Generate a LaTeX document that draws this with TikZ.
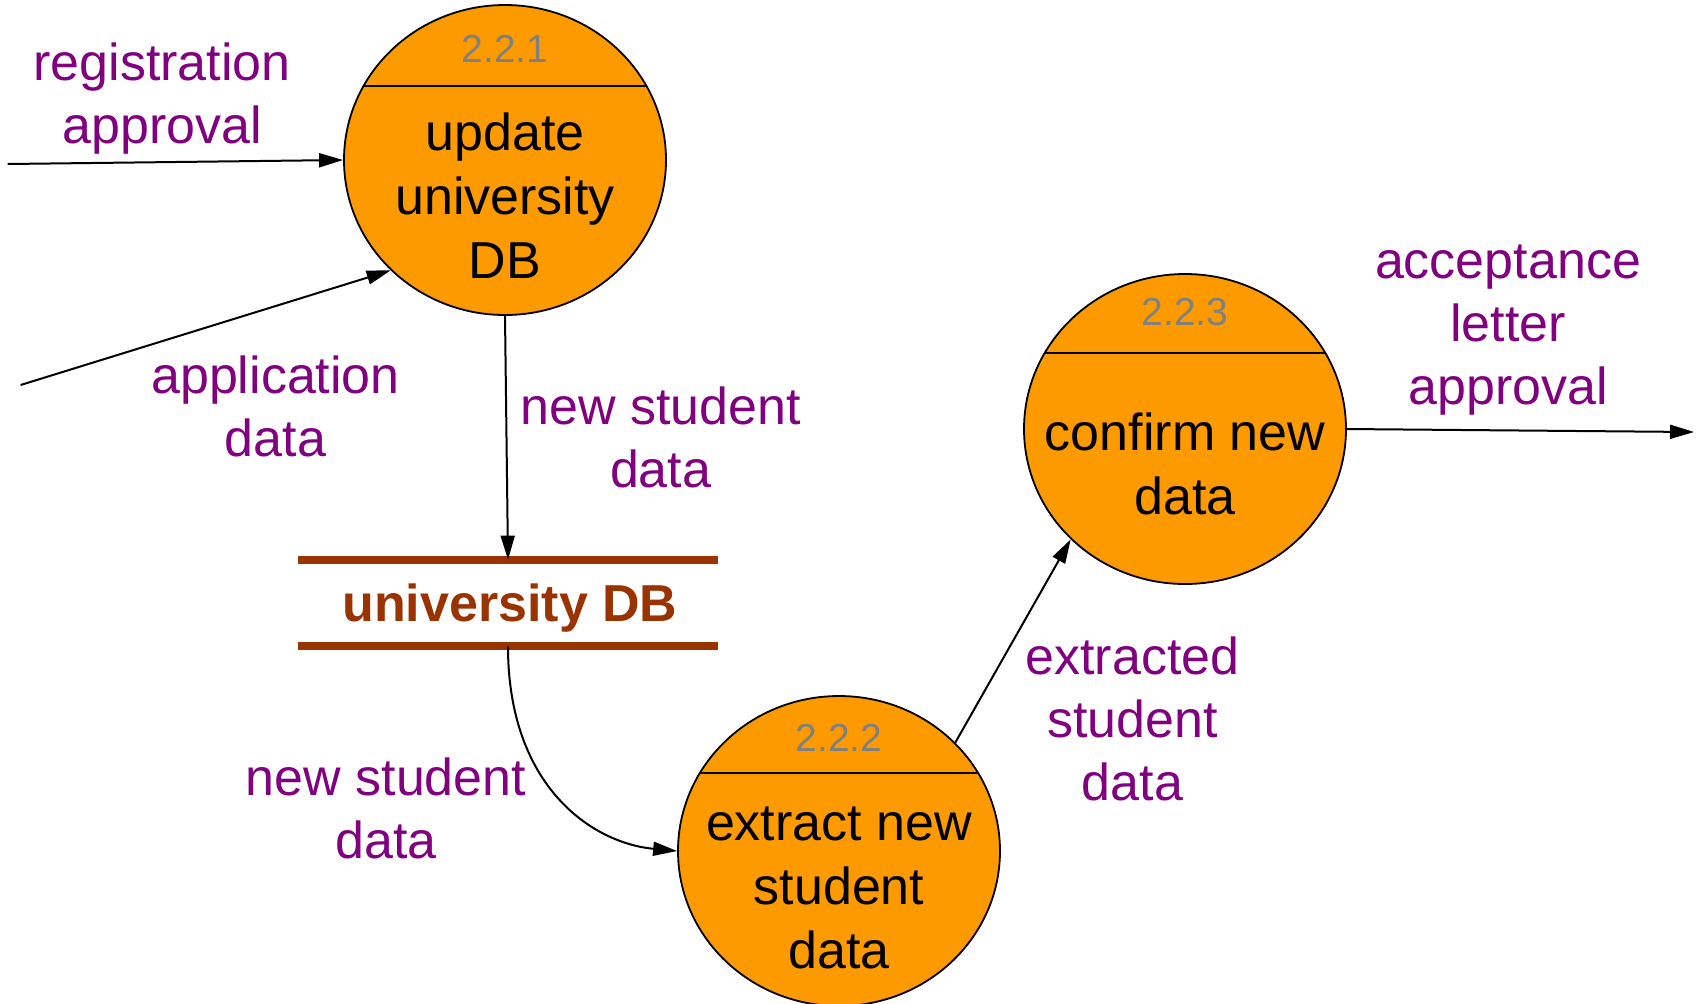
\documentclass[tikz,border=0pt]{standalone}
\usepackage{fontspec}
\setmainfont{Liberation Sans}
\usetikzlibrary{shapes.geometric,arrows.meta,calc}
\definecolor{procfill}{HTML}{FD9A00}
\definecolor{lblpurple}{HTML}{800080}
\definecolor{storebrown}{HTML}{993300}
\definecolor{numgray}{HTML}{808080}
\begin{document}
\begin{tikzpicture}[x=0.5pt,y=-0.5pt,
  proc/.style={ellipse,draw=black,line width=0.9pt,fill=procfill,minimum width=161pt,minimum height=155pt,inner sep=0pt},
  proctext/.style={align=center,font=\fontsize{26}{32}\selectfont,text=black},
  procnum/.style={font=\fontsize{19.5}{22}\selectfont,text=numgray},
  flowlbl/.style={align=center,font=\fontsize{26}{31.5}\selectfont,text=lblpurple},
  flow/.style={draw=black,line width=1pt,-{Triangle[length=12pt,width=7pt]}},
  sepline/.style={draw=black,line width=1pt},
  storeline/.style={draw=storebrown,line width=4pt}
]
\useasboundingbox (0,0) rectangle (1701,1003);

% processes
\node[proc] (c1) at (505,160) {};
\node[proc] (c2) at (839,851) {};
\node[proc] (c3) at (1185,429) {};

\draw[sepline] ($(c1)+(-141.5,-74)$) -- ($(c1)+(141.5,-74)$);
\draw[sepline] ($(c2)+(-139,-78)$) -- ($(c2)+(139,-78)$);
\draw[sepline] ($(c3)+(-141,-76)$) -- ($(c3)+(141,-76)$);

\node[procnum] (n1) at ($(c1)+(0,-111)$) {2.2.1};
\node[procnum] (n2) at ($(c2)+(0,-113)$) {2.2.2};
\node[procnum] (n3) at ($(c3)+(0,-117)$) {2.2.3};

\node[proctext] (t1) at ($(c1)+(0,36)$) {update\\university\\DB};
\node[proctext] (t2) at ($(c2)+(0,37)$) {extract new\\student\\data};
\node[proctext] (t3) at ($(c3)+(0,35)$) {confirm new\\data};

% data store
\node[minimum width=210pt,minimum height=43pt,inner sep=0pt] (store) at (508,603) {};
\node[font=\bfseries\fontsize{26}{32}\selectfont,text=storebrown,inner sep=0pt] (storetext) at (510,608) {university DB};
\draw[storeline] (store.north west) -- (store.north east);
\draw[storeline] (store.south west) -- (store.south east);

% free ends
\coordinate (inReg) at (7.6,164);
\coordinate (inApp) at (20.6,385);
\coordinate (outAcc) at (1694,432);

% flows
\draw[flow] (inReg) -- (c1.west);
\draw[flow] (inApp) -- (c1.224);
\draw[flow] (c1.south) -- (store.north);
\draw[flow] (store.south) .. controls +(0,140) and +(-85,-8) .. (c2.west);
\draw[flow] (c2.43) -- (c3.224);
\draw[flow] (c3.east) -- (outAcc);

% labels
\node[flowlbl] (l1) at (162,99) {registration\\approval};
\node[flowlbl] (l2) at (275.5,406) {application\\data};
\node[flowlbl] (l3) at (660.6,437) {new student\\data};
\node[flowlbl] (l4) at (386,808) {new student\\data};
\node[flowlbl] (l5) at (1132.5,719) {extracted\\student\\data};
\node[flowlbl] (l6) at (1508,330) {acceptance\\letter\\approval};
\end{tikzpicture}
\end{document}
